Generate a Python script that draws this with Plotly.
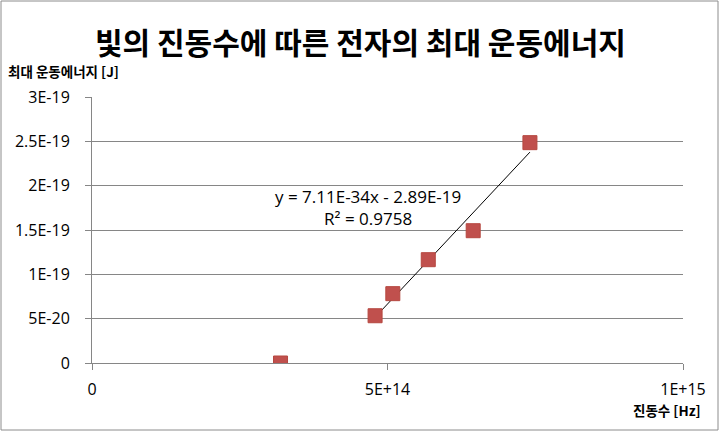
import plotly.graph_objects as go
import numpy as np

# Data
freq_hz = [3.19e14, 4.79e14, 5.09e14, 5.69e14, 6.45e14, 7.41e14]
energy_j = [0.0, 5.33e-20, 7.82e-20, 1.165e-19, 1.492e-19, 2.485e-19]

# Linear trendline (fitted over the non-zero points) as displayed
trend_slope = 7.11e-34
trend_intercept = -2.89e-19
trend_label = "y = 7.11E-34x - 2.89E-19<br>R² = 0.9758"

y_tickvals = [0, 5e-20, 1e-19, 1.5e-19, 2e-19, 2.5e-19, 3e-19]
y_ticktext = ["0", "5E-20", "1E-19", "1.5E-19", "2E-19", "2.5E-19", "3E-19"]
x_tickvals = [0, 5e14, 1e15]
x_ticktext = ["0", "5E+14", "1E+15"]

title_text = "빛의 진동수에 따른 전자의 최대 운동에너지"
y_title = "최대 운동에너지 [J]"
x_title = "진동수 [Hz]"

trend_x = np.array([freq_hz[1], freq_hz[-1]])
trend_y = trend_slope * trend_x + trend_intercept

W, H = 721, 435
L, R, T, B = 92, 38, 97, 72
pw, ph = W - L - R, H - T - B

def px(x):
    return (x - L) / pw

def py(y):
    return (H - B - y) / ph

fig = go.Figure()
fig.add_trace(go.Scatter(
    x=trend_x, y=trend_y, mode="lines",
    line=dict(color="#000000", width=1), hoverinfo="skip", showlegend=False))
fig.add_trace(go.Scatter(
    x=freq_hz, y=energy_j, mode="markers",
    marker=dict(symbol="square", size=14, color="#C0504D",
                line=dict(color="#B5473F", width=1)),
    showlegend=False))

font_cjk = "Noto Sans CJK KR"
num_family = "Open Sans, Noto Sans, Arial"
tick_font = dict(family=num_family, size=16, color="#000000")

fig.update_layout(
    width=W, height=H,
    margin=dict(l=L, r=R, t=T, b=B),
    paper_bgcolor="#ffffff", plot_bgcolor="#ffffff",
    xaxis=dict(range=[0, 1e15], tickvals=x_tickvals, ticktext=x_ticktext,
               showgrid=False, zeroline=False, showline=True,
               linecolor="#868686", linewidth=1, ticks="outside",
               ticklen=6, tickcolor="#868686", tickfont=tick_font,
               ticklabelstandoff=6),
    yaxis=dict(range=[0, 3e-19], tickvals=y_tickvals, ticktext=y_ticktext,
               showgrid=True, gridcolor="#868686", gridwidth=1,
               zeroline=False, showline=True, linecolor="#868686",
               linewidth=1, ticks="outside", ticklen=6, tickcolor="#868686",
               tickfont=tick_font, ticklabelstandoff=12),
    shapes=[dict(type="rect", xref="paper", yref="paper",
                 x0=px(1), x1=px(718), y0=py(430), y1=py(1),
                 line=dict(color="#8c8c8c", width=1), fillcolor="rgba(0,0,0,0)",
                 layer="below")],
    annotations=[
        dict(text=f"<b>{title_text}</b>", xref="paper", yref="paper",
             x=px(360), y=py(41), xanchor="center", yanchor="middle",
             showarrow=False, font=dict(family=font_cjk, size=30, color="#000000")),
        dict(text=f"<b>{y_title}</b>", xref="paper", yref="paper",
             x=px(6), y=py(71), xanchor="left", yanchor="middle",
             showarrow=False, font=dict(family=font_cjk, size=13.5, color="#000000")),
        dict(text=f"<b>{x_title}</b>", xref="paper", yref="paper",
             x=px(703), y=py(410), xanchor="right", yanchor="middle",
             showarrow=False, font=dict(family=font_cjk, size=13.5, color="#000000")),
        dict(text=trend_label, xref="paper", yref="paper",
             x=px(368), y=py(207), xanchor="center", yanchor="middle",
             showarrow=False, align="center",
             font=dict(family=num_family, size=17, color="#000000")),
    ],
)

fig.write_html("out.html", config={"displayModeBar": False},
               post_script="document.body.style.margin='0';document.body.style.padding='0';")
